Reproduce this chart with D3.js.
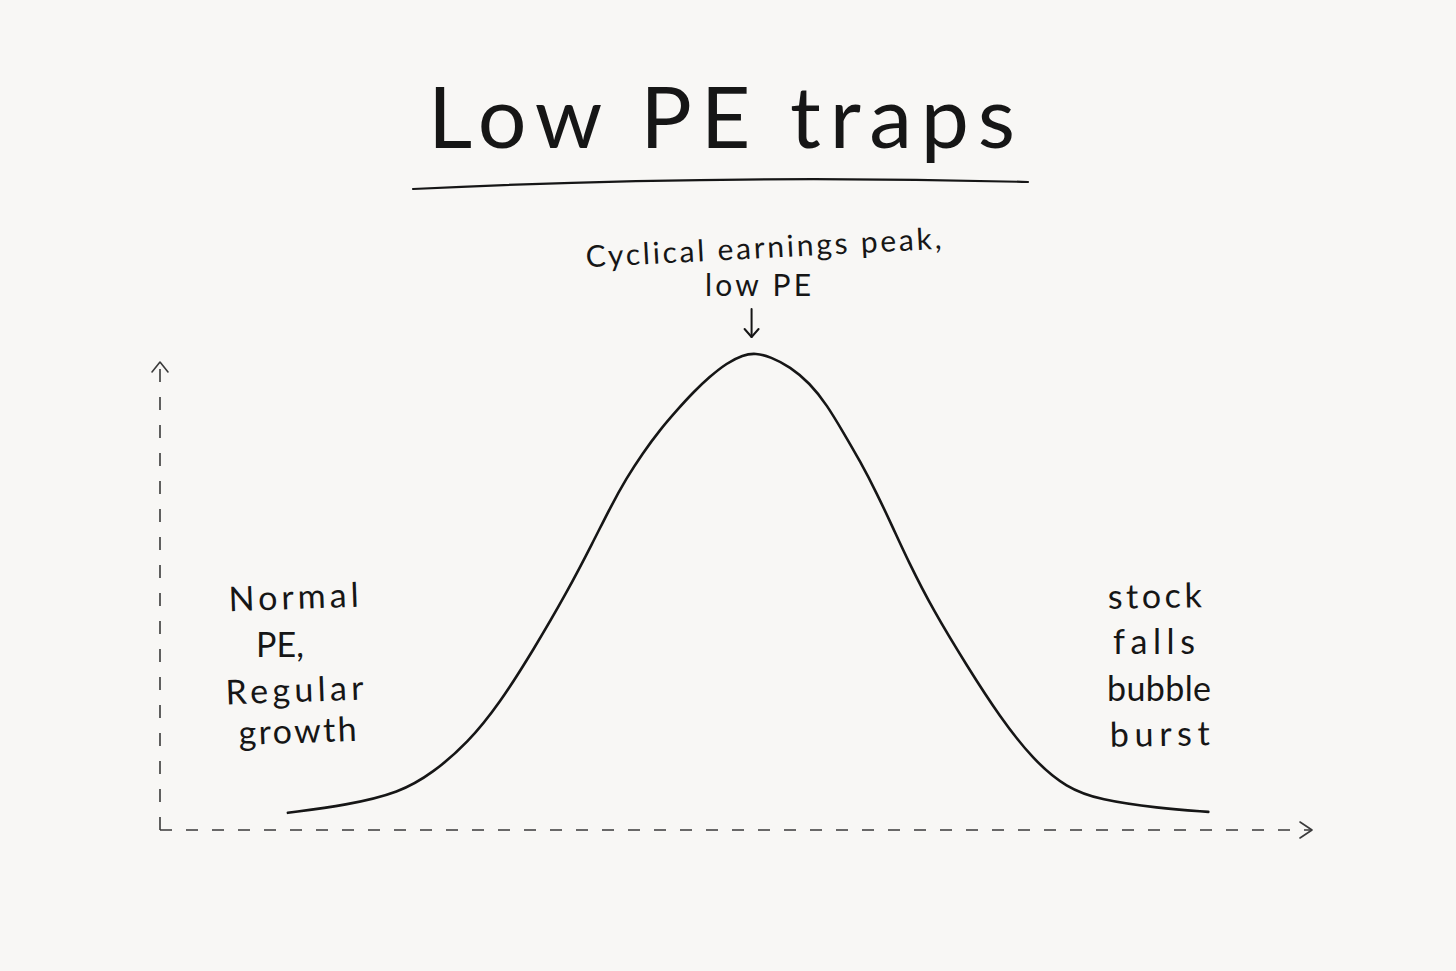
<!DOCTYPE html>
<html>
<head>
<meta charset="utf-8">
<script src="https://cdn.jsdelivr.net/npm/d3@7"></script>
<style>
  html, body { margin: 0; padding: 0; background: #f8f7f5; }
  svg { display: block; }
  text { font-family: "Lato", "Noto Sans", sans-serif; fill: #161616; }
</style>
</head>
<body>
<svg id="chart" width="1456" height="971"></svg>
<script>
// curve: x = time (0..100), y = earnings (0..100)
var curveX = [11.1, 16.2, 20.8, 23.7, 26.7, 29.5, 32.4, 35.3, 37.6, 39.1, 40.5, 41.9, 43.4, 44.9,
  46.3, 47.7, 49.2, 50.6, 51.7, 53.0, 54.7, 56.4, 57.9, 59.3, 60.8, 62.2, 63.6, 64.9, 67.1,
  70.1, 72.9, 75.8, 78.7, 81.6, 86.6, 91.0];
var curveY = [3.6, 5.2, 7.8, 12.0, 18.2, 26.6, 37.7, 49.7, 60.4, 67.7, 73.8, 79.0, 83.9, 88.1,
  91.8, 95.0, 97.9, 99.6, 100, 99.2, 97.1, 93.7, 89.1, 83.4, 77.2, 70.7, 63.5, 56.6, 46.1,
  34.2, 23.7, 14.7, 8.8, 6.3, 4.6, 3.8];

var titleText = "Low PE traps";
var peakNote = ["Cyclical earnings peak,", "low PE"];
var leftNote = ["Normal", "PE,", "Regular", "growth"];
var rightNote = ["stock", "falls", "bubble", "burst"];

var svg = d3.select("#chart");
var ink = "#161616";

var x = d3.scaleLinear().domain([0, 100]).range([160, 1312]);
var y = d3.scaleLinear().domain([0, 100]).range([830, 353]);

// title + hand-drawn underline
svg.append("text")
  .attr("x", 428).attr("y", 148)
  .attr("font-size", 86)
  .attr("textLength", 587).attr("lengthAdjust", "spacing")
  .text(titleText);

var ul = d3.path();
ul.moveTo(413, 189);
ul.quadraticCurveTo(720, 174, 1028, 182);
svg.append("path").attr("d", ul.toString())
  .attr("fill", "none").attr("stroke", ink).attr("stroke-width", 2.2)
  .attr("stroke-linecap", "round");

// dashed axes
var axisG = svg.append("g")
  .attr("stroke", "#3a3a3a").attr("stroke-width", 1.6).attr("fill", "none");

axisG.append("line")
  .attr("x1", x(0)).attr("y1", y(0)).attr("x2", x(0)).attr("y2", 362)
  .attr("stroke-dasharray", "13,15");
axisG.append("line")
  .attr("x1", x(0)).attr("y1", y(0)).attr("x2", x(100)).attr("y2", y(0))
  .attr("stroke-dasharray", "12,14");

// arrow heads (open chevrons)
axisG.append("path")
  .attr("d", "M" + (x(0) - 8) + "," + 372 + "L" + x(0) + "," + 362 + "L" + (x(0) + 8) + "," + 372)
  .attr("stroke-linecap", "round").attr("stroke-linejoin", "round");
axisG.append("path")
  .attr("d", "M" + (x(100) - 12) + "," + (y(0) - 8) + "L" + x(100) + "," + y(0) +
    "L" + (x(100) - 12) + "," + (y(0) + 8))
  .attr("stroke-linecap", "round").attr("stroke-linejoin", "round");

// the curve (b-spline smooths the hand-read points)
var pts = curveX.map(function(d, i) { return [d, curveY[i]]; });
var line = d3.line()
  .x(function(d) { return x(d[0]); })
  .y(function(d) { return y(d[1]); })
  .curve(d3.curveBasis);

svg.append("path").datum(pts)
  .attr("d", line)
  .attr("fill", "none").attr("stroke", ink).attr("stroke-width", 2.6)
  .attr("stroke-linecap", "round");

// peak annotation
var peakX = x(51.7);
svg.append("text")
  .attr("x", 764).attr("y", 258)
  .attr("font-size", 30).attr("text-anchor", "middle")
  .attr("textLength", 356).attr("lengthAdjust", "spacing")
  .attr("transform", "rotate(-3 764 258)")
  .text(peakNote[0]);
svg.append("text")
  .attr("x", 758).attr("y", 296)
  .attr("font-size", 30).attr("text-anchor", "middle")
  .attr("textLength", 106).attr("lengthAdjust", "spacing")
  .text(peakNote[1]);

var arrowG = svg.append("g")
  .attr("stroke", ink).attr("stroke-width", 2).attr("fill", "none")
  .attr("stroke-linecap", "round").attr("stroke-linejoin", "round");
arrowG.append("line")
  .attr("x1", peakX - 4).attr("y1", 309).attr("x2", peakX - 4).attr("y2", 337);
arrowG.append("path")
  .attr("d", "M" + (peakX - 11) + ",329L" + (peakX - 4) + ",337L" + (peakX + 3) + ",329");

// side notes
var leftPos = [[294, 609, 130, -2], [280, 657, 0, 0], [295, 702, 138, -2], [298, 743, 118, -2]];
var rightPos = [[1155, 608, 94, -1], [1154, 654, 82, 0], [1159, 701, 104, 0], [1160, 746, 100, -1]];

function notes(lines, pos) {
  svg.selectAll(null).data(lines).enter().append("text")
    .attr("x", function(d, i) { return pos[i][0]; })
    .attr("y", function(d, i) { return pos[i][1]; })
    .attr("font-size", 34).attr("text-anchor", "middle")
    .each(function(d, i) {
      if (pos[i][2]) {
        d3.select(this).attr("textLength", pos[i][2]).attr("lengthAdjust", "spacing");
      }
    })
    .attr("transform", function(d, i) {
      return "rotate(" + pos[i][3] + " " + pos[i][0] + " " + pos[i][1] + ")";
    })
    .text(function(d) { return d; });
}
notes(leftNote, leftPos);
notes(rightNote, rightPos);
</script>
</body>
</html>
